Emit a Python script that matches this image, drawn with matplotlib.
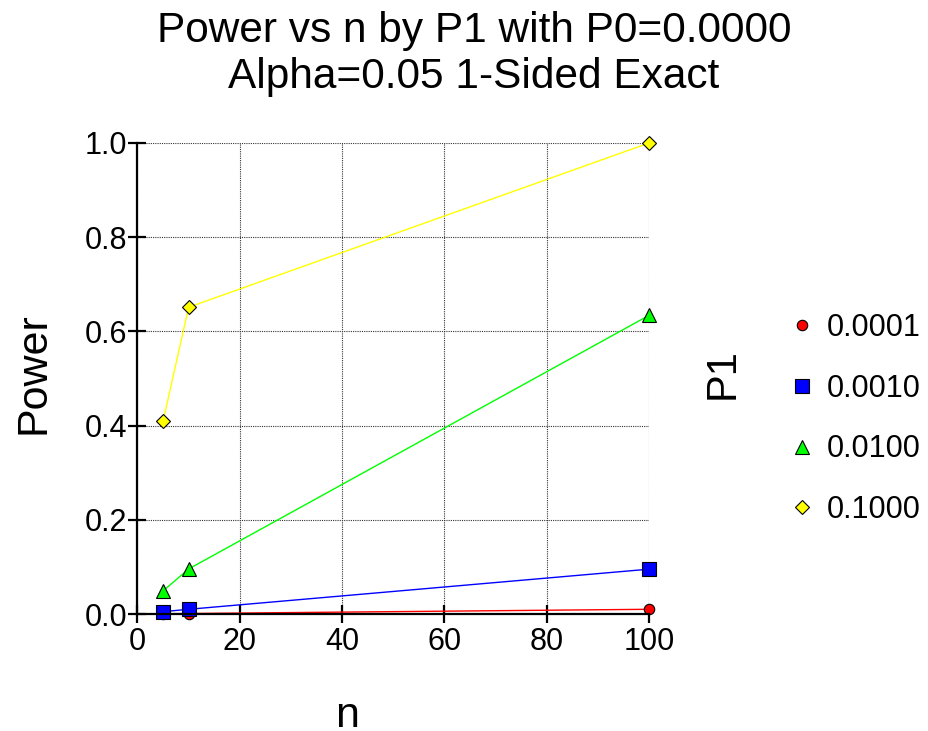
import matplotlib
matplotlib.use("Agg")
import matplotlib.pyplot as plt

plt.rcParams['font.family'] = ['Liberation Sans', 'DejaVu Sans']

n_values = [5, 10, 100]
p1_labels = ["0.0001", "0.0010", "0.0100", "0.1000"]
power_p1_0001 = [0.0005, 0.0010, 0.0100]
power_p1_0010 = [0.0050, 0.0100, 0.0952]
power_p1_0100 = [0.0490, 0.0956, 0.6340]
power_p1_1000 = [0.4095, 0.6513, 1.0000]
series = [power_p1_0001, power_p1_0010, power_p1_0100, power_p1_1000]
colors = ["#FF0000", "#0000FF", "#00FF00", "#FFFF00"]
markers = ["o", "s", "^", "D"]
msizes = [7.5, 10, 10.5, 7.5]
x_ticks = [0, 20, 40, 60, 80, 100]
y_ticks = [0.0, 0.2, 0.4, 0.6, 0.8, 1.0]
y_ticklabels = ["0.0", "0.2", "0.4", "0.6", "0.8", "1.0"]

L, R, T, B = 137.5, 649, 143, 614
fig = plt.figure(figsize=(9.29, 7.31), dpi=100)
ax = fig.add_axes([L/929, 1-B/731, (R-L)/929, (B-T)/731])

for vals, c in zip(series, colors):
    ax.plot(n_values, vals, color=c, lw=1.0, zorder=3, clip_on=False)
for vals, c, m, ms, lab in zip(series, colors, markers, msizes, p1_labels):
    ax.plot(n_values, vals, linestyle='none', marker=m, markersize=ms,
            markerfacecolor=c, markeredgecolor='black', markeredgewidth=0.8,
            zorder=4, clip_on=False, label=lab)

ax.set_xlim(0, 100)
ax.set_ylim(0, 1.0)
ax.set_xticks(x_ticks)
ax.set_yticks(y_ticks)
ax.set_yticklabels(y_ticklabels)
ax.grid(True, color='#333333', linestyle=(0, (1, 1)), linewidth=0.8, zorder=1)
for s in ['top', 'right']:
    ax.spines[s].set_visible(False)
for s in ['left', 'bottom']:
    ax.spines[s].set_linewidth(1.6)
    ax.spines[s].set_zorder(5)
ax.tick_params(axis='both', direction='inout', length=13, width=1.6,
               labelsize=22, colors='black')
ax.tick_params(axis='y', pad=1)
ax.tick_params(axis='x', pad=3)

fig.text(0.51, 1-31/731, "Power vs n by P1 with P0=0.0000", ha='center', va='center', fontsize=30.5)
fig.text(0.51, 1-77/731, "Alpha=0.05 1-Sided Exact", ha='center', va='center', fontsize=30.5)
fig.text(347/929, 1-716/731, "n", ha='center', va='center', fontsize=31)
fig.text(34/929, 1-373/731, "Power", ha='center', va='center', fontsize=31, rotation=90)
fig.text(723/929, 1-374/731, "P1", ha='center', va='center', fontsize=30, rotation=90)

handles, labels = ax.get_legend_handles_labels()
leg = fig.legend(handles, labels, loc='center left', bbox_to_anchor=(787/929, 1-419/731),
                 frameon=False, fontsize=22, markerscale=1.0, handlelength=1.0,
                 handletextpad=0.3, labelspacing=1.0, borderaxespad=0, borderpad=0)

fig.savefig("out.png", dpi=100)
